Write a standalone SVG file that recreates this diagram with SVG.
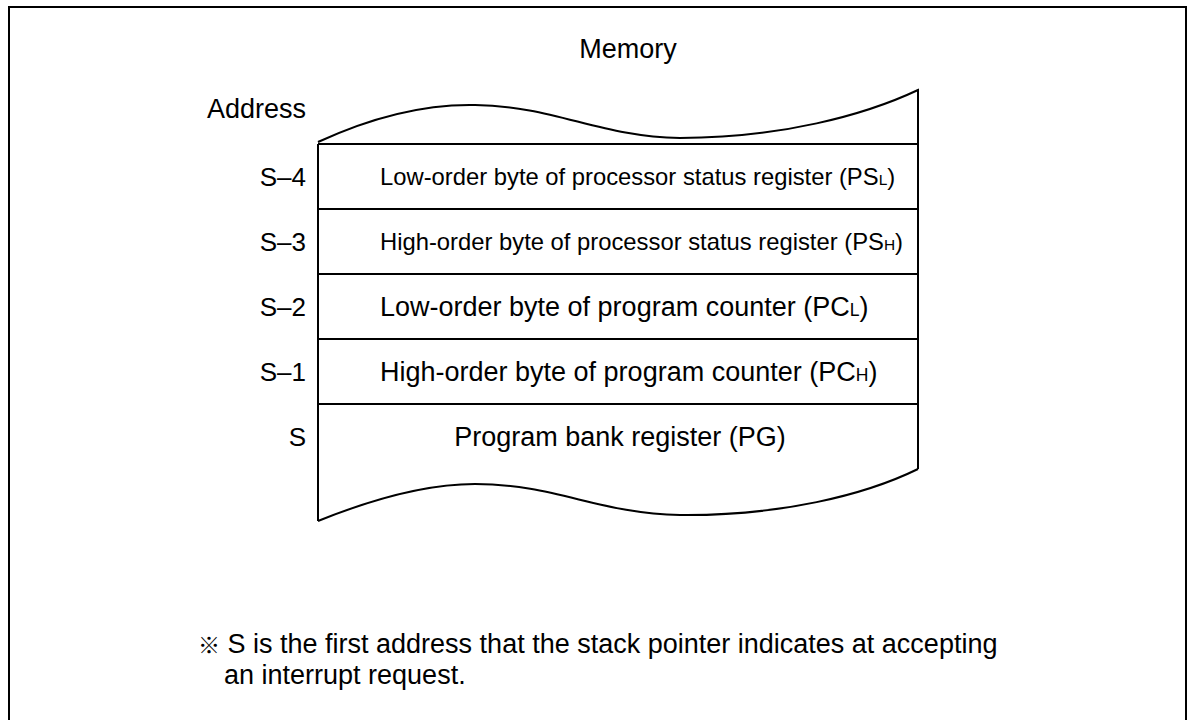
<svg xmlns="http://www.w3.org/2000/svg" width="1190" height="720" viewBox="0 0 1190 720">
<style>
text{font-family:"Liberation Sans",Arial,sans-serif;fill:#000;font-size:27px}
.sm{font-size:0.65em}
.c{font-size:23.8px}
.lab{font-size:26px}
.ln{fill:none;stroke:#000;stroke-width:2}
</style>
<rect x="0" y="0" width="1190" height="720" fill="#fff"/>
<g id="frame"><path class="ln" d="M9,722 V7 H1186 V722"/></g>
<text id="title" x="628" y="58" text-anchor="middle">Memory</text>
<text id="address" x="306" y="118" text-anchor="end">Address</text>
<g id="memory">
<path class="ln" d="M318,142 C370,118 425,104 475,105 C555,106 600,137 680,138 C780,138 865,115 918,90 V469 M318,144 H918 M318,144 V521"/>
<path class="ln" d="M918,469 C865,495 780,516 680,515 C600,514 555,484 475,484 C425,484 370,500 318,521"/>
</g>
<g id="row-s4"><line class="ln" x1="318" y1="209" x2="918" y2="209"/><text class="lab" x="306" y="186" text-anchor="end">S–4</text><text class="c" x="380" y="185">Low-order byte of processor status register (PS<tspan class="sm">L</tspan>)</text></g>
<g id="row-s3"><line class="ln" x1="318" y1="274" x2="918" y2="274"/><text class="lab" x="306" y="251" text-anchor="end">S–3</text><text class="c" x="380" y="250">High-order byte of processor status register (PS<tspan class="sm">H</tspan>)</text></g>
<g id="row-s2"><line class="ln" x1="318" y1="339" x2="918" y2="339"/><text class="lab" x="306" y="316" text-anchor="end">S–2</text><text x="380" y="316">Low-order byte of program counter (PC<tspan class="sm">L</tspan>)</text></g>
<g id="row-s1"><line class="ln" x1="318" y1="404" x2="918" y2="404"/><text class="lab" x="306" y="381" text-anchor="end">S–1</text><text x="380" y="381">High-order byte of program counter (PC<tspan class="sm">H</tspan>)</text></g>
<g id="row-s"><text class="lab" x="306" y="446" text-anchor="end">S</text><text x="620" y="446" text-anchor="middle">Program bank register (PG)</text></g>
<g id="note">
<text x="198" y="653"><tspan font-family="'Noto Sans CJK JP',sans-serif" font-size="22">※</tspan> S is the first address that the stack pointer indicates at accepting</text>
<text x="224" y="684">an interrupt request.</text>
</g>
</svg>
